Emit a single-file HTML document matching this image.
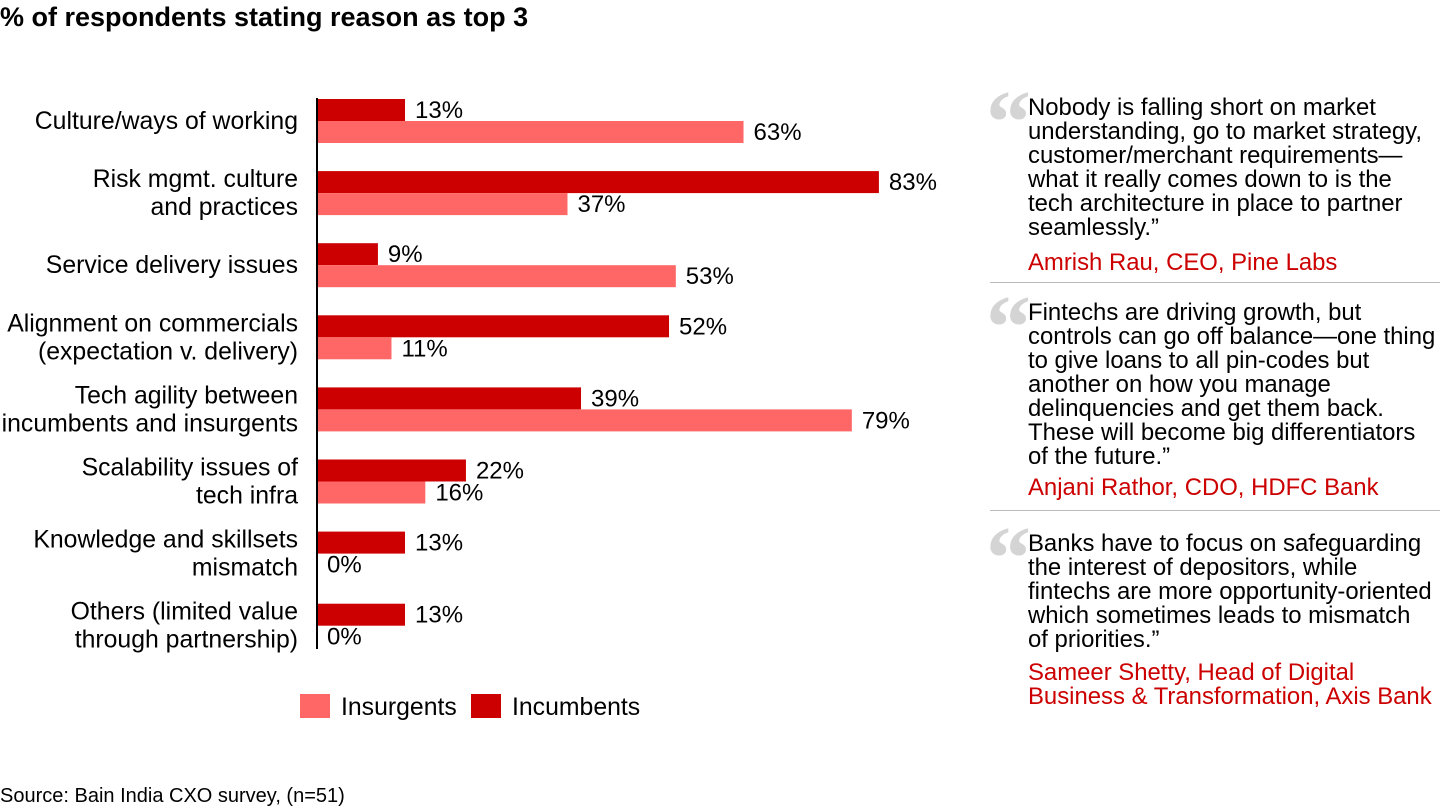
<!DOCTYPE html>
<html><head><meta charset="utf-8">
<style>
body{margin:0;width:1440px;height:810px;background:#fff;font-family:"Liberation Sans",sans-serif;position:relative;overflow:hidden;color:#000}
.t{position:absolute;white-space:nowrap}
.q{position:absolute;left:1028px;font-size:23.9px;line-height:24px;white-space:nowrap}
.qa{color:#cc0000}
.qm{position:absolute;left:986px;font-family:"Liberation Serif",serif;font-weight:bold;font-size:90px;color:#d4d4d4;line-height:90px}
.sep{position:absolute;left:990px;width:450px;height:1px;background:#bbb}
</style></head><body>
<div class="t" style="left:0;top:2px;font-size:27px;font-weight:bold">% of respondents stating reason as top 3</div>
<svg id="chart" width="960" height="740" style="position:absolute;left:0;top:0"></svg>
<div class="t" style="left:0;top:785px;font-size:20px">Source: Bain India CXO survey, (n=51)</div>

<div class="qm" style="top:78px">“</div>
<div class="q" style="top:96px">Nobody is falling short on market<br>understanding, go to market strategy,<br>customer/merchant requirements—<br>what it really comes down to is the<br>tech architecture in place to partner<br>seamlessly.”</div>
<div class="q qa" style="top:251px">Amrish Rau, CEO, Pine Labs</div>
<div class="sep" style="top:282px"></div>
<div class="qm" style="top:283px">“</div>
<div class="q" style="top:301px">Fintechs are driving growth, but<br>controls can go off balance—one thing<br>to give loans to all pin-codes but<br>another on how you manage<br>delinquencies and get them back.<br>These will become big differentiators<br>of the future.”</div>
<div class="q qa" style="top:476px">Anjani Rathor, CDO, HDFC Bank</div>
<div class="sep" style="top:510px"></div>
<div class="qm" style="top:514px">“</div>
<div class="q" style="top:532px">Banks have to focus on safeguarding<br>the interest of depositors, while<br>fintechs are more opportunity-oriented<br>which sometimes leads to mismatch<br>of priorities.”</div>
<div class="q qa" style="top:661px">Sameer Shetty, Head of Digital<br>Business &amp; Transformation, Axis Bank</div>

<script>
const categories=[["Culture/ways of working"],["Risk mgmt. culture","and practices"],["Service delivery issues"],["Alignment on commercials","(expectation v. delivery)"],["Tech agility between","incumbents and insurgents"],["Scalability issues of","tech infra"],["Knowledge and skillsets","mismatch"],["Others (limited value","through partnership)"]];
const incumbents=[13,83,9,52,39,22,13,13];
const insurgents=[63,37,53,11,79,16,0,0];
const NS="http://www.w3.org/2000/svg";
const svg=document.getElementById("chart");
const x0=317,pxPer=6.77,top0=99,step=72.1,bh=22;
const xs=v=>x0+v*pxPer;
function el(t,a){const e=document.createElementNS(NS,t);for(const k in a)e.setAttribute(k,a[k]);svg.appendChild(e);return e;}
categories.forEach((c,i)=>{
  const y=top0+i*step;
  const b1=el("rect",{x:x0,y:y,width:xs(incumbents[i])-x0,height:bh,fill:"#cc0000"});
  
  
  const b2=el("rect",{x:x0,y:y+bh,width:xs(insurgents[i])-x0,height:bh,fill:"#ff6666"});
  
  
  const l1=el("text",{x:xs(incumbents[i])+10,y:y+19,"font-size":24});l1.textContent=incumbents[i]+"%";
  
  
  const l2=el("text",{x:xs(insurgents[i])+10,y:y+bh+19,"font-size":24});l2.textContent=insurgents[i]+"%";
  
  
  const cy=y+bh;
  c.forEach((ln,j)=>{
    const t=el("text",{x:298,y:(c.length==1?cy+8:cy-6+j*28),"font-size":24.8,"text-anchor":"end"});t.textContent=ln;
    
    
  });
});
const ax=el("line",{x1:x0,y1:98,x2:x0,y2:649,stroke:"#000","stroke-width":2});


const lg1=el("rect",{x:300,y:694,width:30,height:24,fill:"#ff6666"});


const lt1=el("text",{x:341,y:715,"font-size":24.8});lt1.textContent="Insurgents";


const lg2=el("rect",{x:471,y:694,width:30,height:24,fill:"#cc0000"});


const lt2=el("text",{x:512,y:715,"font-size":24.8});lt2.textContent="Incumbents";


</script>
</body></html>
